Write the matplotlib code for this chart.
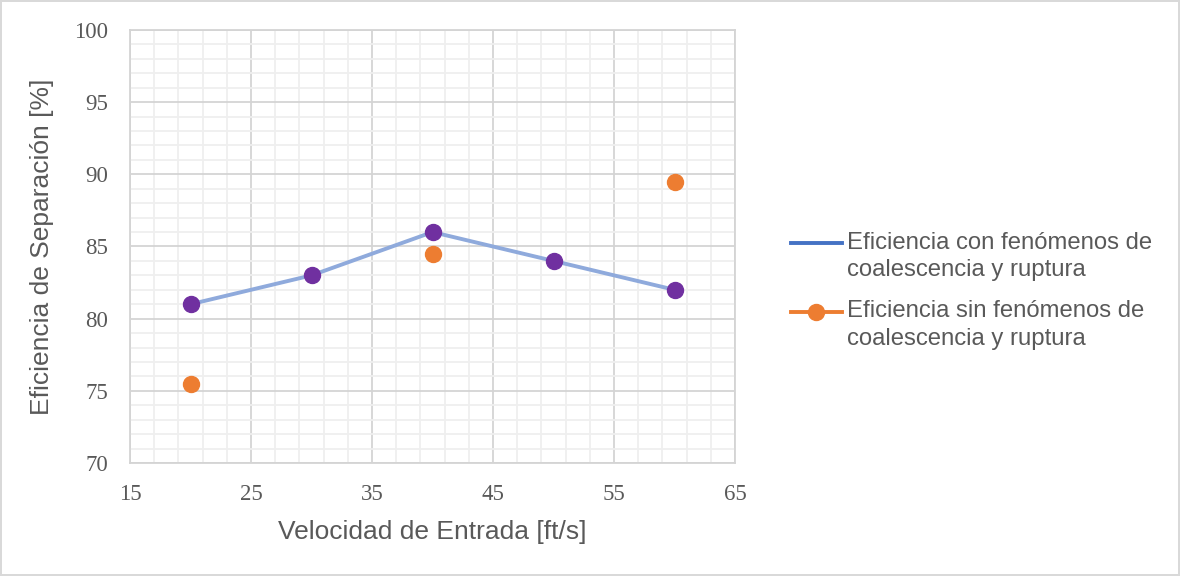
import matplotlib.pyplot as plt
from matplotlib.ticker import MultipleLocator
from matplotlib.legend_handler import HandlerLine2D

# velocidad de entrada [ft/s]
vel_con = [20, 30, 40, 50, 60]
ef_con = [81, 83, 86, 84, 82]

vel_sin = [20, 40, 60]
ef_sin = [75.5, 84.5, 89.5]

lbl_con = "Eficiencia con fenómenos de\ncoalescencia y ruptura"
lbl_sin = "Eficiencia sin fenómenos de\ncoalescencia y ruptura"

gris = "#595959"


class HandlerArriba(HandlerLine2D):
    # pone la muestra a la altura de la primera línea del texto
    def create_artists(self, legend, orig_handle, xdescent, ydescent,
                       width, height, fontsize, trans):
        return super().create_artists(legend, orig_handle, xdescent,
                                      ydescent - 1.14 * fontsize, width,
                                      height, fontsize, trans)


fig = plt.figure(figsize=(11.8, 5.76), dpi=100)
fig.patch.set_edgecolor("#d9d9d9")
fig.patch.set_linewidth(1.5)
ax = fig.add_axes([0.1102, 0.1962, 0.5127, 0.7517])

ax.plot(vel_con, ef_con, color="#8faadc", lw=2.8, zorder=3)
ax.plot(vel_con, ef_con, "o", color="#7030a0", ms=11.5, zorder=4)
ax.plot(vel_sin, ef_sin, "o", color="#ed7d31", ms=11.5, zorder=4)

ax.set_xlim(15, 65)
ax.set_ylim(70, 100)
ax.xaxis.set_major_locator(MultipleLocator(10, offset=5))
ax.xaxis.set_minor_locator(MultipleLocator(2, offset=1))
ax.yaxis.set_major_locator(MultipleLocator(5))
ax.yaxis.set_minor_locator(MultipleLocator(1))
ax.grid(which="major", color="#d4d4d4", lw=1.3, zorder=0)
ax.grid(which="minor", color="#efefef", lw=1.3, zorder=0)
ax.set_axisbelow(True)
ax.tick_params(which="both", length=0, labelsize=16.5, labelcolor=gris)
ax.tick_params(axis="x", pad=15)
ax.tick_params(axis="y", pad=16)
for t in ax.get_xticklabels() + ax.get_yticklabels():
    t.set_fontfamily("Liberation Serif")
for s in ax.spines.values():
    s.set_color("#d4d4d4")
    s.set_linewidth(1.3)

ax.set_xlabel("Velocidad de Entrada [ft/s]", fontsize=19, color=gris,
              family="Liberation Sans", labelpad=11)
ax.set_ylabel("Eficiencia de Separación [%]", fontsize=19, color=gris,
              family="Liberation Sans", labelpad=14)

# entradas de la leyenda
h1, = ax.plot([], [], color="#4472c4", lw=2.8)
h2, = ax.plot([], [], "-o", color="#ed7d31", lw=2.8, ms=11.5)
leg = fig.legend([h1, h2], [lbl_con, lbl_sin], loc="center left",
                 bbox_to_anchor=(0.66, 0.495), frameon=False, borderpad=0,
                 prop={"family": "Liberation Sans", "size": 17.2},
                 handlelength=2.15, handletextpad=0.2, labelspacing=0.8,
                 handler_map={h1: HandlerArriba(), h2: HandlerArriba()})
for t in leg.get_texts():
    t.set_color(gris)
    t.set_linespacing(1.32)

fig.savefig("out.png", dpi=100, edgecolor=fig.get_edgecolor())
